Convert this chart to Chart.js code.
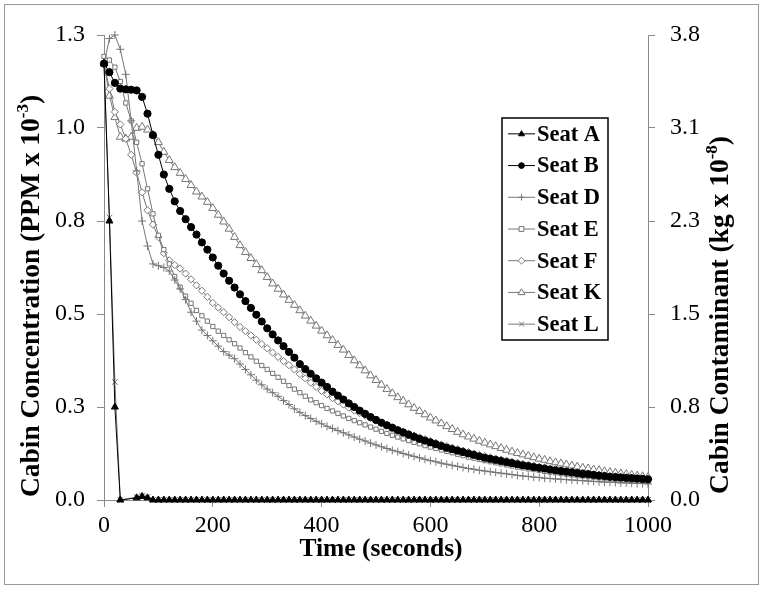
<!DOCTYPE html>
<html><head><meta charset="utf-8">
<script src="https://cdn.jsdelivr.net/npm/chart.js@4/dist/chart.umd.min.js"></script>
<style>html,body{margin:0;padding:0;background:#fff}#wrap{width:763px;height:590px;position:relative}canvas{display:block}</style>
</head><body><div id="wrap"><canvas id="c" width="763" height="590"></canvas></div>
<script>
// ---- DATA ----
const time = [
  0,10,20,30,40,50,60,70,80,90,
  100,110,120,130,140,150,160,170,180,190,
  200,210,220,230,240,250,260,270,280,290,
  300,310,320,330,340,350,360,370,380,390,
  400,410,420,430,440,450,460,470,480,490,
  500,510,520,530,540,550,560,570,580,590,
  600,610,620,630,640,650,660,670,680,690,
  700,710,720,730,740,750,760,770,780,790,
  800,810,820,830,840,850,860,870,880,890,
  900,910,920,930,940,950,960,970,980,990,
  1000];
const seatA = [
  1.22,0.78,0.26,0,null,null,0.006,0.01,0.006,0,
  0,0,0,0,0,0,0,0,0,0,
  0,0,0,0,0,0,0,0,0,0,
  0,0,0,0,0,0,0,0,0,0,
  0,0,0,0,0,0,0,0,0,0,
  0,0,0,0,0,0,0,0,0,0,
  0,0,0,0,0,0,0,0,0,0,
  0,0,0,0,0,0,0,0,0,0,
  0,0,0,0,0,0,0,0,0,0,
  0,0,0,0,0,0,0,0,0,0,
  0];
const seatB = [
  1.22,1.196,1.166,1.15,1.148,1.147,1.145,1.127,1.08,1.02,
  0.965,0.91,0.87,0.835,0.808,0.785,0.763,0.742,0.72,0.70,
  0.678,0.655,0.633,0.613,0.594,0.575,0.556,0.537,0.518,0.499,
  0.48,0.463,0.446,0.43,0.414,0.398,0.38,0.366,0.353,0.34,
  0.328,0.316,0.303,0.292,0.281,0.27,0.26,0.25,0.241,0.232,
  0.224,0.216,0.209,0.202,0.195,0.189,0.183,0.177,0.171,0.166,
  0.161,0.156,0.151,0.146,0.142,0.138,0.134,0.13,0.126,0.122,
  0.118,0.115,0.112,0.109,0.106,0.103,0.1,0.097,0.095,0.092,
  0.09,0.088,0.085,0.083,0.081,0.079,0.077,0.075,0.073,0.072,
  0.07,0.068,0.067,0.065,0.064,0.063,0.062,0.061,0.06,0.059,
  0.058];
const seatD = [
  1.22,1.29,1.30,1.26,1.19,1.06,0.92,0.78,0.71,0.66,
  0.655,0.65,0.64,0.615,0.59,0.56,0.525,0.50,0.475,0.46,
  0.445,0.43,0.415,0.405,0.395,0.38,0.365,0.35,0.335,0.322,
  0.31,0.30,0.29,0.278,0.267,0.255,0.245,0.236,0.228,0.22,
  0.213,0.206,0.20,0.194,0.188,0.182,0.176,0.17,0.165,0.159,
  0.154,0.149,0.144,0.139,0.135,0.13,0.126,0.122,0.118,0.114,
  0.11,0.107,0.103,0.10,0.097,0.094,0.091,0.088,0.086,0.083,
  0.081,0.079,0.077,0.075,0.073,0.071,0.069,0.067,0.066,0.064,
  0.063,0.061,0.06,0.059,0.058,0.057,0.056,0.055,0.054,0.053,
  0.052,0.051,0.05,0.05,0.049,0.048,0.048,0.047,0.046,0.046,
  0.045];
const seatE = [
  1.24,1.23,1.21,1.17,1.11,1.06,1.00,0.94,0.87,0.80,
  0.74,0.70,0.66,0.625,0.595,0.57,0.55,0.53,0.515,0.50,
  0.485,0.472,0.46,0.448,0.437,0.425,0.412,0.40,0.388,0.376,
  0.365,0.354,0.343,0.332,0.32,0.31,0.30,0.29,0.28,0.272,
  0.264,0.256,0.249,0.242,0.235,0.228,0.222,0.216,0.21,0.204,
  0.198,0.192,0.186,0.181,0.176,0.171,0.166,0.161,0.157,0.152,
  0.148,0.144,0.14,0.136,0.132,0.128,0.124,0.12,0.117,0.113,
  0.11,0.107,0.104,0.101,0.098,0.095,0.092,0.09,0.087,0.085,
  0.083,0.08,0.078,0.076,0.074,0.072,0.07,0.068,0.067,0.065,
  0.064,0.062,0.061,0.06,0.058,0.057,0.056,0.055,0.054,0.053,
  0.052];
const seatF = [
  1.22,1.15,1.085,1.05,1.01,0.965,0.915,0.86,0.81,0.77,
  0.735,0.69,0.67,0.657,0.647,0.633,0.617,0.60,0.585,0.568,
  0.551,0.538,0.525,0.511,0.497,0.484,0.472,0.46,0.448,0.436,
  0.424,0.412,0.40,0.388,0.377,0.365,0.352,0.34,0.328,0.316,
  0.305,0.295,0.285,0.276,0.267,0.258,0.25,0.243,0.236,0.229,
  0.222,0.215,0.209,0.203,0.197,0.191,0.185,0.18,0.175,0.17,
  0.165,0.16,0.155,0.151,0.146,0.142,0.138,0.134,0.13,0.126,
  0.123,0.119,0.116,0.113,0.11,0.107,0.104,0.101,0.098,0.096,
  0.093,0.091,0.088,0.086,0.084,0.082,0.08,0.078,0.076,0.074,
  0.072,0.071,0.069,0.067,0.066,0.064,0.063,0.062,0.06,0.059,
  0.058];
const seatK = [
  1.22,1.13,1.07,1.015,1.01,1.015,1.04,1.043,1.035,1.02,
  1.0,0.973,0.95,0.93,0.914,0.897,0.88,0.862,0.848,0.833,
  0.816,0.797,0.778,0.758,0.735,0.712,0.693,0.676,0.659,0.642,
  0.623,0.605,0.59,0.574,0.559,0.545,0.53,0.515,0.501,0.487,
  0.473,0.46,0.447,0.433,0.42,0.405,0.39,0.376,0.362,0.348,
  0.335,0.322,0.31,0.298,0.287,0.277,0.267,0.257,0.248,0.239,
  0.23,0.222,0.214,0.206,0.198,0.19,0.183,0.177,0.171,0.165,
  0.16,0.155,0.15,0.145,0.14,0.135,0.131,0.127,0.123,0.119,
  0.115,0.112,0.108,0.105,0.102,0.099,0.096,0.093,0.09,0.088,
  0.085,0.083,0.08,0.078,0.076,0.074,0.072,0.07,0.068,0.066,
  0.064];
const seatL = [
  1.22,0.79,0.33,0,null,null,0.008,0.012,0.008,0,
  0,0,0,0,0,0,0,0,0,0,
  0,0,0,0,0,0,0,0,0,0,
  0,0,0,0,0,0,0,0,0,0,
  0,0,0,0,0,0,0,0,0,0,
  0,0,0,0,0,0,0,0,0,0,
  0,0,0,0,0,0,0,0,0,0,
  0,0,0,0,0,0,0,0,0,0,
  0,0,0,0,0,0,0,0,0,0,
  0,0,0,0,0,0,0,0,0,0,
  0];
const seriesNames = ['Seat A','Seat B','Seat D','Seat E','Seat F','Seat K','Seat L'];
const xTickLabels = ['0','200','400','600','800','1000'];
const leftTickLabels = ['0.0','0.3','0.5','0.8','1.0','1.3'];
const rightTickLabels = ['0.0','0.8','1.5','2.3','3.1','3.8'];
const xTitle = 'Time (seconds)';
const leftTitle = ['Cabin Concentration (PPM x 10', '-3', ')'];
const rightTitle = ['Cabin Contaminant (kg x 10', '-8', ')'];

// ---- STYLES ----
const GRAY = '#767676';
const AX = '#8a8a8a';
const styles = [
  {style:'triangle', r:4,   fill:'#000', stroke:'#000', line:'#000'},
  {style:'circle',   r:3.6, fill:'#000', stroke:'#000', line:'#000'},
  {style:'cross',    r:4,   fill:GRAY,   stroke:GRAY,   line:GRAY},
  {style:'rect',     r:3,   fill:'#fff', stroke:GRAY,   line:GRAY},
  {style:'rectRot',  r:3.6, fill:'#fff', stroke:GRAY,   line:GRAY},
  {style:'triangle', r:4.6, fill:'#fff', stroke:GRAY,   line:GRAY},
  {style:'crossRot', r:4,   fill:GRAY,   stroke:GRAY,   line:GRAY}
];
const allSeries = [seatA, seatB, seatD, seatE, seatF, seatK, seatL];

const datasets = allSeries.map((arr, k) => ({
  label: seriesNames[k],
  data: time.map((t, i) => ({x: t, y: arr[i]})),
  borderColor: styles[k].line,
  borderWidth: 1,
  backgroundColor: styles[k].fill,
  pointStyle: styles[k].style,
  pointRadius: styles[k].r,
  pointHoverRadius: styles[k].r,
  pointBackgroundColor: styles[k].fill,
  pointBorderColor: styles[k].stroke,
  pointBorderWidth: 1,
  spanGaps: true,
  tension: 0,
  clip: 10,
  yAxisID: 'y'
}));

function drawMarker(ctx, st, x, y) {
  const r = st.r;
  ctx.save();
  ctx.lineWidth = 1;
  ctx.strokeStyle = st.stroke;
  ctx.fillStyle = st.fill;
  ctx.beginPath();
  if (st.style === 'circle') { ctx.arc(x, y, r, 0, Math.PI*2); ctx.fill(); ctx.stroke(); }
  else if (st.style === 'triangle') {
    ctx.moveTo(x, y - r); ctx.lineTo(x + r*0.95, y + r*0.6); ctx.lineTo(x - r*0.95, y + r*0.6); ctx.closePath();
    ctx.fill(); ctx.stroke();
  } else if (st.style === 'rect') { ctx.rect(x-r, y-r, 2*r, 2*r); ctx.fill(); ctx.stroke(); }
  else if (st.style === 'rectRot') { ctx.moveTo(x, y-r*1.2); ctx.lineTo(x+r*1.2, y); ctx.lineTo(x, y+r*1.2); ctx.lineTo(x-r*1.2, y); ctx.closePath(); ctx.fill(); ctx.stroke(); }
  else if (st.style === 'cross') { ctx.moveTo(x-r, y); ctx.lineTo(x+r, y); ctx.moveTo(x, y-r); ctx.lineTo(x, y+r); ctx.stroke(); }
  else if (st.style === 'crossRot') { const d=r*0.75; ctx.moveTo(x-d, y-d); ctx.lineTo(x+d, y+d); ctx.moveTo(x+d, y-d); ctx.lineTo(x-d, y+d); ctx.stroke(); }
  ctx.restore();
}

function drawSupText(ctx, cx, cy, parts, rotate) {
  const mainFont = 'bold 27.5px "Liberation Serif"';
  const supFont = 'bold 17px "Liberation Serif"';
  ctx.save();
  ctx.translate(cx, cy);
  if (rotate) ctx.rotate(-Math.PI/2);
  ctx.fillStyle = '#000';
  ctx.textBaseline = 'alphabetic';
  ctx.textAlign = 'left';
  ctx.font = mainFont; const w0 = ctx.measureText(parts[0]).width; const w2 = ctx.measureText(parts[2]).width;
  ctx.font = supFont; const w1 = ctx.measureText(parts[1]).width;
  const total = w0 + w1 + w2;
  let x = -total/2; const base = 9;
  ctx.font = mainFont; ctx.fillText(parts[0], x, base); x += w0;
  ctx.font = supFont; ctx.fillText(parts[1], x, base - 11); x += w1;
  ctx.font = mainFont; ctx.fillText(parts[2], x, base);
  ctx.restore();
}

const decor = {
  id: 'decor',
  afterDraw(chart) {
    const ctx = chart.ctx;
    ctx.save();
    ctx.strokeStyle = '#9a9a9a'; ctx.lineWidth = 1;
    ctx.strokeRect(4.5, 4.5, 754, 580);
    ctx.restore();
    drawSupText(ctx, 30, 296, leftTitle, true);
    drawSupText(ctx, 719, 315, rightTitle, true);
    ctx.save();
    ctx.font = 'bold 25.5px "Liberation Serif"';
    ctx.fillStyle = '#000'; ctx.textAlign = 'center'; ctx.textBaseline = 'middle';
    ctx.fillText(xTitle, 381, 549);
    ctx.restore();
    const L = 502, T = 118, W = 106, H = 222;
    ctx.save();
    ctx.fillStyle = '#fff'; ctx.fillRect(L, T, W, H);
    ctx.strokeStyle = '#000'; ctx.lineWidth = 1.5; ctx.strokeRect(L, T, W, H);
    const step = H / seriesNames.length;
    seriesNames.forEach((name, i) => {
      const y = T + step/2 + i*step;
      const st = styles[i];
      ctx.strokeStyle = st.line; ctx.lineWidth = 1;
      ctx.beginPath(); ctx.moveTo(508, y); ctx.lineTo(535, y); ctx.stroke();
      drawMarker(ctx, {...st, r: st.r*0.8}, 521.5, y);
      ctx.font = 'bold 22.5px "Liberation Serif"'; ctx.fillStyle = '#000';
      ctx.textAlign = 'left'; ctx.textBaseline = 'middle';
      ctx.fillText(name, 537, y + 1);
    });
    ctx.restore();
  }
};

const tickFont = {family: 'Liberation Serif', size: 24, weight: 'normal'};
new Chart(document.getElementById('c'), {
  type: 'line',
  data: {datasets},
  options: {
    responsive: false,
    animation: false,
    devicePixelRatio: 1,
    layout: {padding: {top: 35, left: 0, right: 0, bottom: 0}},
    plugins: {legend: {display: false}, tooltip: {enabled: false}, title: {display: false}},
    scales: {
      x: {
        type: 'linear', position: 'bottom', min: 0, max: 1000,
        ticks: {stepSize: 200, callback: (v, i) => xTickLabels[i], font: tickFont, color: '#000', padding: 4, maxRotation: 0},
        grid: {drawOnChartArea: false, drawTicks: true, tickLength: 7, color: AX},
        border: {color: AX, width: 1},
        afterFit: s => { s.height = 90; }
      },
      y: {
        type: 'linear', position: 'left', min: 0, max: 1.3,
        ticks: {count: 6, callback: (v, i) => leftTickLabels[i], font: tickFont, color: '#000', padding: 12},
        grid: {drawOnChartArea: false, drawTicks: true, tickLength: 7, color: AX},
        border: {color: AX, width: 1},
        afterFit: s => { s.width = 104; }
      },
      y2: {
        type: 'linear', position: 'right', min: 0, max: 3.8,
        ticks: {count: 6, callback: (v, i) => rightTickLabels[i], font: tickFont, color: '#000', padding: 15},
        grid: {drawOnChartArea: false, drawTicks: true, tickLength: 7, color: AX},
        border: {color: AX, width: 1},
        afterFit: s => { s.width = 115; }
      }
    }
  },
  plugins: [decor]
});
</script>
</body></html>
